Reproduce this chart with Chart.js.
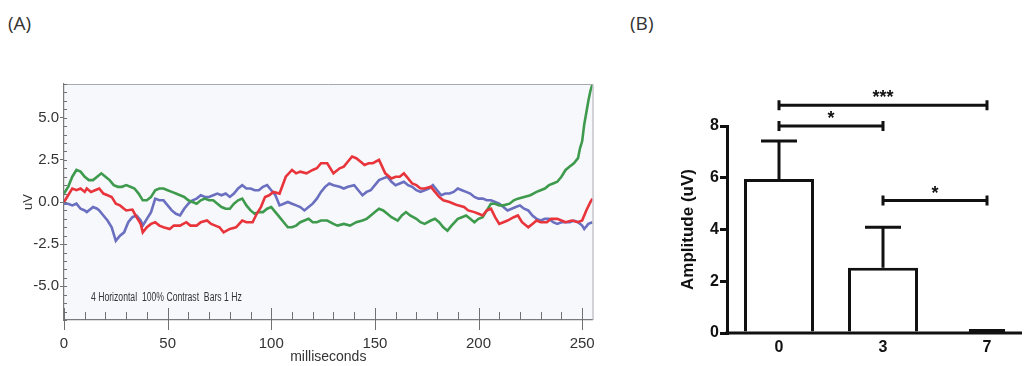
<!DOCTYPE html>
<html>
<head>
<meta charset="utf-8">
<script src="https://cdn.jsdelivr.net/npm/chart.js@4.4.1/dist/chart.umd.min.js"></script>
<style>
  html, body { margin: 0; padding: 0; background: #fff; width: 1031px; height: 366px; overflow: hidden; }
  body { position: relative; }
  .panel { position: absolute; font-family: "Open Sans", "Liberation Sans", sans-serif; font-size: 19px; color: #333; line-height: 1; }
  #wrapA { position: absolute; left: 0; top: 60px; }
  #wrapB { position: absolute; left: 640px; top: 0; }
</style>
</head>
<body>
<div class="panel" style="left:8px; top:14px;">(A)</div>
<div class="panel" style="left:630px; top:14px;">(B)</div>
<div id="wrapA"><canvas id="chartA" width="610" height="306"></canvas></div>
<div id="wrapB"><canvas id="chartB" width="410" height="366"></canvas></div>
<script>
// (A) three traces, time in ms and amplitude in uV
const redT = [0, 2, 4, 6, 8, 10, 11, 13, 15, 17, 19, 21, 23, 25, 27, 30, 33, 35, 37, 38, 40, 42, 44, 46, 48, 51, 53, 56, 59, 61, 64, 66, 69, 71, 73, 75, 77, 80, 83, 86, 88, 91, 93, 95, 97, 99, 101, 104, 107, 110, 112, 114, 117, 120, 122, 124, 127, 130, 133, 135, 137, 139, 141, 143, 145, 147, 149, 152, 155, 158, 160, 162, 164, 166, 168, 170, 172, 174, 177, 179, 181, 183, 186, 188, 190, 193, 195, 198, 200, 202, 204, 206, 208, 210, 212, 214, 217, 219, 221, 224, 226, 228, 230, 233, 235, 238, 240, 242, 245, 248, 250, 252, 254, 255];
const redV = [0.0, 0.4, 0.8, 0.7, 0.8, 0.6, 0.8, 0.6, 0.7, 0.8, 0.5, 0.4, 0.3, -0.1, -0.2, -0.5, -0.45, -0.9, -1.3, -1.8, -1.5, -1.3, -1.2, -1.4, -1.5, -1.6, -1.4, -1.4, -1.2, -1.4, -1.4, -1.2, -1.1, -1.3, -1.4, -1.5, -1.8, -1.6, -1.5, -1.1, -1.2, -1.2, -0.7, -0.3, 0.3, 0.4, 0.6, 0.5, 1.5, 1.9, 1.7, 1.8, 1.7, 1.9, 2.0, 2.3, 2.3, 1.7, 2.0, 2.1, 2.4, 2.7, 2.6, 2.4, 2.2, 2.3, 2.3, 2.5, 1.7, 1.4, 1.5, 1.5, 1.7, 1.4, 1.1, 1.0, 0.8, 0.8, 0.9, 0.6, 0.3, 0.1, 0.0, -0.1, -0.2, -0.3, -0.5, -0.6, -0.7, -0.8, -0.5, -0.4, -0.9, -1.3, -1.2, -1.1, -0.9, -0.8, -1.2, -1.5, -1.3, -1.1, -1.2, -1.2, -1.0, -1.0, -1.1, -1.2, -1.1, -1.2, -1.1, -0.5, 0.0, 0.2];

const greenT = [0, 2, 4, 6, 8, 10, 12, 14, 16, 18, 20, 22, 24, 26, 28, 30, 32, 34, 36, 38, 40, 42, 44, 46, 48, 50, 52, 54, 56, 58, 60, 62, 64, 66, 68, 70, 72, 74, 76, 78, 80, 82, 84, 86, 88, 90, 92, 94, 96, 98, 100, 102, 104, 106, 108, 110, 112, 114, 116, 118, 120, 122, 124, 127, 130, 132, 135, 138, 141, 144, 146, 148, 150, 152, 154, 156, 158, 161, 163, 165, 167, 170, 172, 174, 177, 179, 181, 183, 185, 187, 190, 192, 194, 196, 198, 200, 202, 204, 206, 208, 210, 212, 215, 217, 219, 222, 225, 228, 230, 232, 234, 236, 238, 240, 242, 244, 246, 248, 249, 250, 251, 252, 253, 254, 255];
const greenV = [0.5, 0.9, 1.5, 1.9, 1.8, 1.5, 1.3, 1.3, 1.5, 1.7, 1.5, 1.3, 1.0, 0.9, 0.9, 1.0, 0.9, 0.8, 0.5, 0.1, 0.1, 0.3, 0.7, 0.8, 0.8, 0.7, 0.6, 0.5, 0.4, 0.3, 0.1, 0.0, -0.1, 0.1, 0.2, 0.1, 0.1, -0.1, -0.3, -0.4, -0.4, -0.1, 0.1, 0.2, -0.2, -0.5, -0.7, -0.6, -0.6, -0.4, -0.3, -0.6, -0.9, -1.2, -1.5, -1.5, -1.4, -1.2, -1.1, -1.0, -1.2, -1.2, -1.1, -1.1, -1.3, -1.4, -1.3, -1.4, -1.2, -1.1, -1.0, -0.8, -0.6, -0.4, -0.5, -0.7, -0.9, -1.1, -0.8, -0.6, -0.8, -1.0, -1.2, -1.3, -1.1, -1.0, -1.2, -1.5, -1.7, -1.4, -1.0, -0.9, -0.8, -1.0, -1.2, -1.0, -0.9, -0.5, -0.1, -0.1, -0.2, -0.2, -0.1, 0.1, 0.2, 0.3, 0.4, 0.6, 0.7, 0.8, 1.0, 1.1, 1.2, 1.5, 1.9, 2.1, 2.3, 2.6, 3.2, 3.6, 4.6, 5.3, 6.0, 6.6, 7.0];

const blueT = [0, 2, 4, 6, 8, 10, 11, 13, 14, 16, 17, 19, 21, 23, 25, 27, 29, 31, 33, 35, 37, 38, 40, 42, 44, 46, 48, 50, 52, 54, 56, 58, 60, 62, 64, 66, 68, 70, 72, 74, 76, 78, 80, 82, 84, 86, 88, 90, 92, 94, 96, 98, 100, 102, 104, 106, 108, 110, 112, 114, 116, 118, 120, 122, 124, 126, 128, 130, 133, 135, 137, 140, 142, 144, 146, 148, 150, 152, 154, 156, 158, 160, 162, 164, 166, 168, 170, 172, 174, 176, 178, 180, 182, 184, 186, 188, 190, 192, 194, 196, 198, 200, 202, 204, 206, 208, 210, 212, 214, 216, 218, 220, 222, 224, 226, 228, 230, 232, 234, 236, 238, 240, 242, 244, 246, 248, 250, 251, 253, 255];
const blueV = [-0.1, -0.1, -0.2, -0.1, -0.4, -0.5, -0.6, -0.4, -0.3, -0.4, -0.5, -0.8, -1.1, -1.5, -2.3, -2.0, -1.8, -1.2, -0.9, -0.8, -1.1, -1.4, -1.0, -0.6, 0.2, 0.1, 0.1, -0.2, -0.5, -0.7, -0.8, -0.4, -0.1, 0.1, 0.2, 0.4, 0.3, 0.3, 0.4, 0.5, 0.4, 0.5, 0.3, 0.5, 0.8, 1.0, 0.8, 0.8, 0.7, 0.7, 0.9, 1.0, 0.7, 0.4, -0.2, -0.1, 0.0, -0.1, -0.2, -0.3, -0.5, -0.3, -0.1, 0.2, 0.6, 0.9, 1.1, 1.0, 0.9, 0.8, 0.9, 1.0, 0.7, 0.4, 0.6, 0.7, 1.0, 1.3, 1.4, 1.5, 1.2, 1.0, 1.1, 1.2, 1.0, 0.9, 0.7, 0.6, 0.7, 0.8, 1.0, 0.7, 0.4, 0.5, 0.5, 0.6, 0.8, 0.7, 0.6, 0.5, 0.3, 0.2, 0.2, 0.1, 0.1, 0.0, -0.1, -0.3, -0.5, -0.4, -0.3, -0.2, -0.4, -0.5, -0.8, -1.0, -1.1, -1.0, -1.0, -1.2, -1.3, -1.2, -1.2, -1.2, -1.1, -1.2, -1.4, -1.6, -1.3, -1.2];

const xTicksA = [0, 50, 100, 150, 200, 250];
const yTicksA = [-5, -2.5, 0, 2.5, 5];
const noteA = '4 Horizontal  100% Contrast  Bars 1 Hz';

// (B) amplitude per day, mean and SD
const days = ['0', '3', '7'];
const amplitude = [5.95, 2.52, 0.06];
const amplitudeSd = [1.47, 1.57, 0.04];
const yTicksB = [0, 2, 4, 6, 8];
const sigFrom = [0, 0, 1];
const sigTo = [2, 1, 2];
const sigLevel = [8.8, 8.0, 5.12];
const sigText = ['***', '*', '*'];

const narrow = '"Liberation Sans Narrow", "Liberation Sans", Arial, sans-serif';
const bold = '"Liberation Sans", Arial, sans-serif';

function toPoints(ts, vs) {
  return ts.map((t, i) => ({ x: t, y: vs[i] }));
}

function trace(label, ts, vs, color) {
  return {
    label: label,
    data: toPoints(ts, vs),
    showLine: true,
    borderColor: color,
    borderWidth: 2.6,
    pointRadius: 0,
    tension: 0
  };
}

const traceFrame = {
  id: 'traceFrame',
  beforeDraw(chart) {
    const { ctx, chartArea: a } = chart;
    ctx.save();
    ctx.fillStyle = '#f7f8fc';
    ctx.fillRect(a.left, a.top, a.right - a.left, a.bottom - a.top);
    ctx.restore();
  },
  afterDraw(chart) {
    const { ctx, chartArea: a, scales: { x, y } } = chart;
    ctx.save();
    ctx.strokeStyle = '#a8a8b0';
    ctx.lineWidth = 1;
    ctx.beginPath();
    ctx.moveTo(a.left, a.top + 0.5);
    ctx.lineTo(a.right + 0.5, a.top + 0.5);
    ctx.lineTo(a.right + 0.5, a.bottom);
    ctx.stroke();

    ctx.strokeStyle = '#707070';
    ctx.beginPath();
    // minor ticks inside the left axis every 0.5 uV
    for (let v = -7; v <= 7; v += 0.5) {
      const py = Math.round(y.getPixelForValue(v)) + 0.5;
      ctx.moveTo(a.left, py);
      ctx.lineTo(a.left + 3, py);
    }
    // ticks on the time axis every 10 ms, longer every 50 ms
    for (let t = 0; t <= 250; t += 10) {
      const px = Math.round(x.getPixelForValue(t)) + 0.5;
      if (t % 50 === 0) {
        ctx.moveTo(px, a.bottom - 12);
        ctx.lineTo(px, a.bottom + 10);
      } else {
        ctx.moveTo(px, a.bottom - 8);
        ctx.lineTo(px, a.bottom);
      }
    }
    ctx.stroke();

    // recording note in the lower left
    ctx.fillStyle = '#333';
    ctx.font = '12px ' + narrow;
    ctx.textBaseline = 'middle';
    const w = ctx.measureText(noteA).width;
    const left = x.getPixelForValue(13);
    const right = x.getPixelForValue(85.8);
    ctx.translate(left, y.getPixelForValue(-5.65));
    ctx.scale((right - left) / w, 1);
    ctx.fillText(noteA, 0, 0);
    ctx.restore();
  }
};

new Chart(document.getElementById('chartA'), {
  type: 'scatter',
  data: {
    datasets: [
      trace('red', redT, redV, '#e8343b'),
      trace('green', greenT, greenV, '#3e9a4c'),
      trace('blue', blueT, blueV, '#6a6fc0')
    ]
  },
  options: {
    responsive: false,
    animation: false,
    layout: { padding: { top: 24, right: 17, left: 0, bottom: 0 } },
    plugins: { legend: { display: false }, tooltip: { enabled: false } },
    scales: {
      x: {
        type: 'linear',
        min: 0,
        max: 255,
        afterFit: (s) => { s.height = 46; },
        afterBuildTicks: (s) => { s.ticks = xTicksA.map(v => ({ value: v })); },
        grid: { display: false, drawTicks: false },
        border: { display: true, color: '#7a7a7a', width: 1.2 },
        ticks: { color: '#333', padding: 15, font: { family: narrow, size: 15 }, maxRotation: 0 },
        title: { display: true, text: 'milliseconds', color: '#333', padding: { top: 0, bottom: 0 }, font: { family: narrow, size: 14 } }
      },
      y: {
        min: -7,
        max: 7,
        afterFit: (s) => { s.width = 64; },
        afterBuildTicks: (s) => { s.ticks = yTicksA.map(v => ({ value: v })); },
        grid: { drawOnChartArea: false, drawTicks: true, tickLength: 4, color: '#707070' },
        border: { display: true, color: '#7a7a7a', width: 1.2 },
        ticks: { color: '#333', padding: 1, font: { family: narrow, size: 15 }, callback: (v) => Number(v).toFixed(1) },
        title: { display: true, text: 'uV', color: '#333', padding: { top: 21, bottom: 0 }, font: { family: narrow, size: 13 } }
      }
    }
  },
  plugins: [traceFrame]
});

const barExtras = {
  id: 'barExtras',
  afterDatasetsDraw(chart) {
    const { ctx, chartArea: a, scales: { x, y } } = chart;
    const bars = chart.getDatasetMeta(0).data;
    ctx.save();
    ctx.strokeStyle = '#111';
    ctx.fillStyle = '#111';
    ctx.lineWidth = 3;

    // x axis only runs to the right side of the last bar
    const last = bars[bars.length - 1];
    ctx.beginPath();
    ctx.moveTo(a.left - 1.5, a.bottom);
    ctx.lineTo(last.x + last.width / 2, a.bottom);
    ctx.stroke();

    // error bars, upper half only
    bars.forEach((b, i) => {
      const top = y.getPixelForValue(amplitude[i] + amplitudeSd[i]);
      ctx.beginPath();
      ctx.moveTo(b.x, y.getPixelForValue(amplitude[i]));
      ctx.lineTo(b.x, top);
      ctx.moveTo(b.x - 18, top);
      ctx.lineTo(b.x + 18, top);
      ctx.stroke();
    });

    // significance brackets
    ctx.font = 'bold 18px ' + bold;
    ctx.textAlign = 'center';
    ctx.textBaseline = 'alphabetic';
    sigLevel.forEach((lv, i) => {
      const x0 = x.getPixelForValue(sigFrom[i]);
      const x1 = x.getPixelForValue(sigTo[i]);
      const py = y.getPixelForValue(lv);
      ctx.beginPath();
      ctx.moveTo(x0, py);
      ctx.lineTo(x1, py);
      ctx.moveTo(x0, py - 5);
      ctx.lineTo(x0, py + 5);
      ctx.moveTo(x1, py - 5);
      ctx.lineTo(x1, py + 5);
      ctx.stroke();
      ctx.fillText(sigText[i], (x0 + x1) / 2, py - 2);
    });
    ctx.restore();
  }
};

new Chart(document.getElementById('chartB'), {
  type: 'bar',
  data: {
    labels: days,
    datasets: [{
      label: 'Amplitude',
      data: amplitude,
      backgroundColor: '#fff',
      borderColor: '#111',
      borderWidth: 3,
      barPercentage: 0.673,
      categoryPercentage: 1
    }]
  },
  options: {
    responsive: false,
    animation: false,
    layout: { padding: { top: 126, right: 11, left: 0, bottom: 0 } },
    plugins: { legend: { display: false }, tooltip: { enabled: false } },
    scales: {
      x: {
        afterFit: (s) => { s.height = 33; },
        grid: { display: false, drawTicks: false },
        border: { display: false },
        ticks: { color: '#111', padding: 5, font: { family: bold, size: 16, weight: 'bold' } }
      },
      y: {
        min: 0,
        max: 8,
        afterFit: (s) => { s.width = 87; },
        afterBuildTicks: (s) => { s.ticks = yTicksB.map(v => ({ value: v })); },
        grid: { drawOnChartArea: false, drawTicks: true, tickLength: 7, color: '#111', lineWidth: 3 },
        border: { display: true, color: '#111', width: 3 },
        ticks: { color: '#111', padding: 1, font: { family: bold, size: 16, weight: 'bold' } },
        title: { display: true, text: 'Amplitude (uV)', color: '#111', padding: { top: 38, bottom: 0 }, font: { family: bold, size: 17, weight: 'bold' } }
      }
    }
  },
  plugins: [barExtras]
});
</script>
</body>
</html>
